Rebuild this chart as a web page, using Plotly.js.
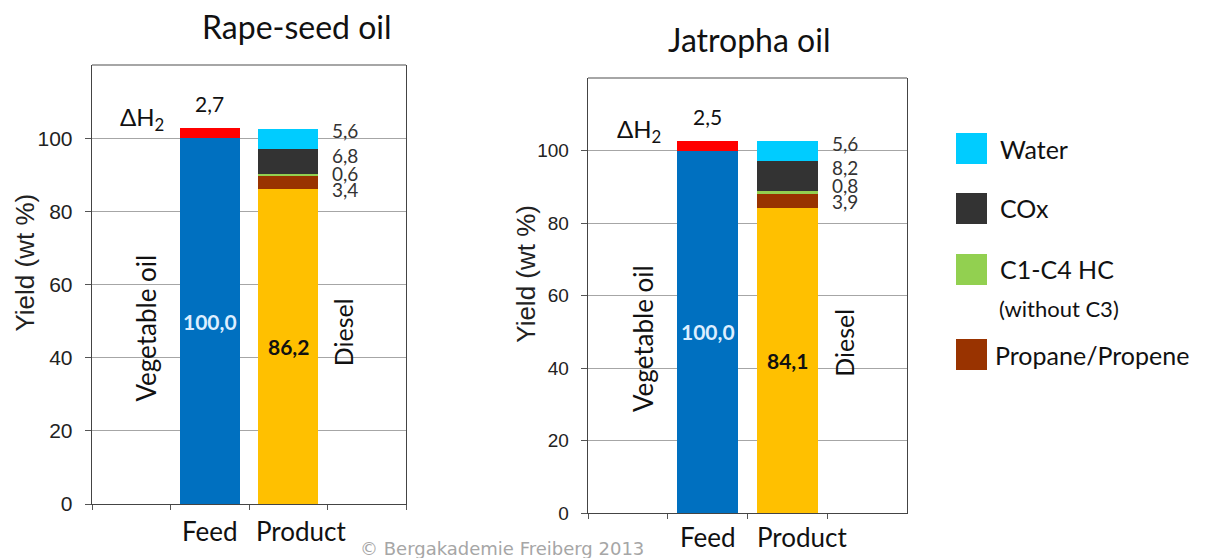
<!DOCTYPE html>
<html>
<head>
<meta charset="utf-8">
<script src="https://cdn.plot.ly/plotly-3.0.1.min.js"></script>
<style>html,body{margin:0;padding:0;background:#fff;}#chart{width:1207px;height:558px;}</style>
</head>
<body>
<div id="chart"></div>
<script>
// ---- data ----
const categories = [" ", "Feed", "Product", "  "];
const feedSeries = ["Vegetable oil", "ΔH2"];
const productSeries = ["Diesel", "Propane/Propene", "C1-C4 HC", "COx", "Water"];
const rapeFeed = [100.0, 2.7];
const rapeProduct = [86.2, 3.4, 0.6, 6.8, 5.6];
const jatrophaFeed = [100.0, 2.5];
const jatrophaProduct = [84.1, 3.9, 0.8, 8.2, 5.6];
const chartTitles = ["Rape-seed oil", "Jatropha oil"];
const yTickVals = [0, 20, 40, 60, 80, 100];
const legendItems = ["Water", "COx", "C1-C4 HC", "Propane/Propene"];

// ---- styles ----
const feedColors = ["#0070C0", "#FF0000"];
const productColors = ["#FFC000", "#993300", "#92D050", "#333333", "#00CCFF"];
const legendColors = {"Water": "#00CCFF", "COx": "#333333", "C1-C4 HC": "#92D050", "Propane/Propene": "#993300"};
const FONT = "Lato, 'Open Sans', sans-serif";
const ARIAL = "'Liberation Sans', Arial, sans-serif";
const W = 1207, H = 558;
const px = v => v / W, py = v => (H - v) / H;
const fmt = v => v.toFixed(1).replace('.', ',');

const charts = [
  {feed: rapeFeed, prod: rapeProduct, title: chartTitles[0], xa: 'x', ya: 'y',
   dx: [92, 406], dy: [504, 65], tickSize: 21, titleX: 297, titleY: 27, yTitleX: 25, labY: 531, prodShift: 13},
  {feed: jatrophaFeed, prod: jatrophaProduct, title: chartTitles[1], xa: 'x2', ya: 'y2',
   dx: [588, 907], dy: [513, 78], tickSize: 19, titleX: 749, titleY: 39, yTitleX: 526, labY: 537, prodShift: 15}
];

const traces = [];
const annotations = [];
const shapes = [];
const layout = {
  width: W, height: H, margin: {l: 0, r: 0, t: 0, b: 0},
  paper_bgcolor: "#fff", plot_bgcolor: "#fff",
  barmode: "stack", bargap: 0.236, showlegend: false,
  font: {family: FONT, color: "#000"}
};
function ann(o) {
  annotations.push(Object.assign({showarrow: false, xanchor: 'center', yanchor: 'middle'}, o));
}

charts.forEach((c, k) => {
  feedSeries.forEach((s, i) => traces.push({
    type: 'bar', name: s, x: [categories[1]], y: [c.feed[i]], xaxis: c.xa, yaxis: c.ya,
    marker: {color: feedColors[i], line: {width: 0}}, hoverinfo: 'skip'
  }));
  productSeries.forEach((s, i) => traces.push({
    type: 'bar', name: s, x: [categories[2]], y: [c.prod[i]], xaxis: c.xa, yaxis: c.ya,
    marker: {color: productColors[i], line: {width: 0}}, hoverinfo: 'skip'
  }));
  const xk = k === 0 ? 'xaxis' : 'xaxis2';
  const yk = k === 0 ? 'yaxis' : 'yaxis2';
  layout[xk] = {
    domain: [px(c.dx[0]), px(c.dx[1])], anchor: c.ya,
    type: 'category', categoryorder: 'array', categoryarray: categories,
    range: [-0.5, 3.5], tickson: 'boundaries', ticks: 'outside', ticklen: 5,
    tickcolor: '#555', showticklabels: false, showline: true, linecolor: '#444', linewidth: 1.3,
    showgrid: false, zeroline: false, fixedrange: true
  };
  layout[yk] = {
    domain: [py(c.dy[0]), py(c.dy[1])], anchor: c.xa,
    range: [0, 120], tickvals: yTickVals, ticks: 'outside', ticklen: 6, tickcolor: '#555',
    ticklabelstandoff: 8,
    tickfont: {family: ARIAL, size: c.tickSize, color: '#222'},
    showline: true, mirror: true, linecolor: '#444', linewidth: 1.3,
    showgrid: true, gridcolor: '#A6A6A6', gridwidth: 1, zeroline: false, fixedrange: true
  };
  // top frame line
  shapes.push({type: 'line', xref: c.xa + ' domain', yref: c.ya + ' domain', x0: 0, x1: 1, y0: 1, y1: 1,
    line: {color: '#888', width: 1.3}});

  // titles
  ann({text: c.title, xref: 'paper', yref: 'paper', x: px(c.titleX), y: py(c.titleY),
    font: {family: FONT, size: 32, color: '#111'}});
  ann({text: 'Yield (wt %)', xref: 'paper', yref: c.ya, x: px(c.yTitleX), y: 66,
    textangle: -90, font: {family: ARIAL, size: 26, color: '#222'}});
  // category labels
  ann({text: categories[1], xref: c.xa, yref: 'paper', x: categories[1], y: py(c.labY),
    font: {family: FONT, size: 26, color: '#111'}});
  ann({text: categories[2], xref: c.xa, yref: 'paper', x: categories[2], y: py(c.labY),
    xshift: c.prodShift, font: {family: FONT, size: 26, color: '#111'}});
  // in-bar labels
  ann({text: '<b>' + fmt(c.feed[0]) + '</b>', xref: c.xa, yref: c.ya, x: categories[1], y: c.feed[0] / 2,
    font: {family: FONT, size: 21, color: '#DDEEFF'}});
  ann({text: '<b>' + fmt(c.prod[0]) + '</b>', xref: c.xa, yref: c.ya, x: categories[2], y: c.prod[0] / 2,
    font: {family: FONT, size: 21, color: '#111'}});
  ann({text: feedSeries[0], xref: c.xa, yref: c.ya, x: 0.19, y: 48, textangle: -90,
    font: {family: FONT, size: 26, color: '#111'}});
  ann({text: productSeries[0], xref: c.xa, yref: c.ya, x: 2.7, y: 47, textangle: -90,
    font: {family: FONT, size: 25, color: '#111'}});
  // H2 labels
  const feedTotal = c.feed[0] + c.feed[1];
  ann({text: 'ΔH<sub>2</sub>', xref: c.xa, yref: c.ya, x: 0.14, y: 105.5,
    font: {family: FONT, size: 24, color: '#111'}});
  ann({text: fmt(c.feed[1]), xref: c.xa, yref: c.ya, x: categories[1], y: feedTotal + 6.8,
    font: {family: FONT, size: 21, color: '#111'}});
  // side labels (top to bottom: Water, COx, C1-C4, Propane)
  const prodTotal = c.prod.reduce((a, b) => a + b, 0);
  const offs = [-0.6, -7.2, -12.2, -16.6];
  [4, 3, 2, 1].forEach((idx, j) => ann({
    text: fmt(c.prod[idx]), xref: c.xa, yref: c.ya, x: 2.53, y: prodTotal + offs[j], xanchor: 'left',
    font: {family: FONT, size: 19, color: '#333'}
  }));
});

// legend
const legRows = [[133, 149, 998], [193, 208, 998], [254, 269, 998], [339, 355, 993]];
legendItems.forEach((name, i) => {
  const [top, mid, tx] = legRows[i];
  shapes.push({type: 'rect', xref: 'paper', yref: 'paper', x0: px(956), x1: px(987), y0: py(top), y1: py(top + 31),
    fillcolor: legendColors[name], line: {width: 0}});
  ann({text: name, xref: 'paper', yref: 'paper', x: px(tx), y: py(mid), xanchor: 'left',
    font: {family: FONT, size: 25, color: '#111'}});
});
ann({text: '(without C3)', xref: 'paper', yref: 'paper', x: px(997), y: py(308), xanchor: 'left',
  font: {family: FONT, size: 22, color: '#111'}});
ann({text: '© Bergakademie Freiberg 2013', xref: 'paper', yref: 'paper', x: px(502), y: py(548),
  font: {family: "'DejaVu Sans', sans-serif", size: 18, color: '#A6A6A6'}});

layout.annotations = annotations;
layout.shapes = shapes;
Plotly.newPlot('chart', traces, layout, {staticPlot: true, displayModeBar: false});
</script>
</body>
</html>
